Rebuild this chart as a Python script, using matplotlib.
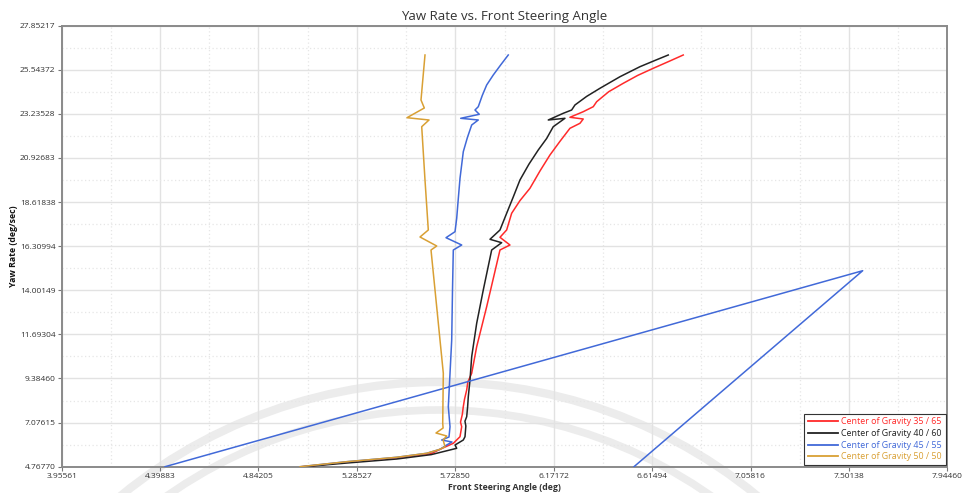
import numpy as np
import matplotlib
matplotlib.use("Agg")
import matplotlib.pyplot as plt
from matplotlib.patches import Arc
from matplotlib.lines import Line2D

plt.rcParams['font.family'] = ['Open Sans', 'DejaVu Sans']

# ---- axis ticks -------------------------------------------------------------
x_ticks = [3.95561, 4.39883, 4.84205, 5.28527, 5.72850, 6.17172,
           6.61494, 7.05816, 7.50138, 7.94460]
x_tick_labels = ["3.95561", "4.39883", "4.84205", "5.28527", "5.72850",
                 "6.17172", "6.61494", "7.05816", "7.50138", "7.94460"]
y_ticks = [4.76770, 7.07615, 9.38460, 11.69304, 14.00149, 16.30994,
           18.61838, 20.92683, 23.23528, 25.54372, 27.85217]
y_tick_labels = ["4.76770", "7.07615", "9.38460", "11.69304", "14.00149",
                 "16.30994", "18.61838", "20.92683", "23.23528", "25.54372",
                 "27.85217"]

# ---- series: front steering angle (deg) vs yaw rate (deg/sec) --------------
cg35_angle = [5.040, 5.2393, 5.4646, 5.6200, 5.6596, 5.7195, 5.7497, 5.7573,
              5.7520, 5.7600, 5.7645, 5.7700, 5.7798, 5.7850, 5.8023, 5.8248,
              5.8698, 5.9297, 5.9747, 5.9297, 5.9598, 5.9823, 6.0200, 6.0647,
              6.1100, 6.1548, 6.2000, 6.2449, 6.2900, 6.3048, 6.2449, 6.3048,
              6.3499, 6.3652, 6.4200, 6.4850, 6.5500, 6.6201, 6.6900, 6.7552]
cg35_yaw = [4.7677, 5.000, 5.230, 5.450, 5.6785, 5.9926, 6.3381, 6.8615,
            7.100, 7.500, 7.9085, 8.300, 8.7826, 9.200, 9.6568, 11.0492,
            13.1431, 16.1111, 16.3728, 16.7759, 17.1580, 18.0322, 18.700,
            19.3408, 20.250, 21.0839, 21.800, 22.4816, 22.7433, 22.9684,
            23.0574, 23.3505, 23.6123, 23.8740, 24.400, 24.8372, 25.250,
            25.6224, 25.980, 26.3186]

cg40_angle = [5.050, 5.2393, 5.4646, 5.6200, 5.7348, 5.7272, 5.7645, 5.7722,
              5.7760, 5.7720, 5.7798, 5.7840, 5.7870, 5.7947, 5.8023, 5.8248,
              5.8545, 5.8923, 5.9373, 5.8847, 5.9297, 5.9598, 5.9900, 6.0197,
              6.0600, 6.1021, 6.1400, 6.1697, 6.2224, 6.1472, 6.2147, 6.2526,
              6.2674, 6.3200, 6.3800, 6.4700, 6.5602, 6.6250, 6.6877]
cg40_yaw = [4.7677, 4.960, 5.170, 5.400, 5.7309, 5.9036, 6.1653, 6.3381,
            6.900, 7.150, 7.3850, 7.900, 8.4319, 9.3061, 10.5258, 12.2741,
            14.0172, 16.1111, 16.4932, 16.6712, 17.1580, 18.0322, 18.900,
            19.7753, 20.600, 21.3457, 21.950, 22.5653, 23.0051, 22.9161,
            23.2668, 23.4395, 23.7013, 24.150, 24.5754, 25.180, 25.7061,
            26.020, 26.3186]

cg45_angle = [4.4209, 7.5635, 6.5334, np.nan,
              5.030, 5.2393, 5.4646, 5.5997, 5.6596, 5.6898, 5.7136, 5.6672,
              5.7001, 5.7047, 5.6970, 5.7047, 5.7123, 5.7159, 5.7195, 5.7573,
              5.6866, 5.7272, 5.7348, 5.7420, 5.7497, 5.7645, 5.7830, 5.8023,
              5.8320, 5.7528, 5.8365, 5.8172, 5.8320, 5.8500, 5.8698, 5.8995,
              5.9330, 5.9670]
cg45_yaw = [4.7677, 15.0275, 4.7677, np.nan,
            4.7677, 5.0294, 5.2598, 5.4691, 5.6785, 5.9036, 6.0606, 6.1653,
            6.3224, 6.8615, 7.9085, 9.6568, 11.3999, 14.0172, 16.1111, 16.3728,
            16.7549, 17.0690, 17.7704, 18.800, 19.8643, 21.2567, 22.000,
            22.6543, 22.9161, 23.0051, 23.2144, 23.4395, 23.6123, 24.200,
            24.7482, 25.2716, 25.800, 26.3186]

cg50_angle = [5.0290, 5.2393, 5.4646, 5.5997, 5.6596, 5.6821, 5.6736, 5.6898,
              5.6416, 5.6736, 5.6718, 5.6745, 5.6461, 5.6191, 5.6448, 5.5695,
              5.6069, 5.5920, 5.5772, 5.6101, 5.5109, 5.5889, 5.5740, 5.5920]
cg50_yaw = [4.7677, 5.0294, 5.2598, 5.4691, 5.6785, 5.8146, 6.1653, 6.3747,
            6.5318, 6.7935, 7.0395, 9.6568, 12.9703, 16.1111, 16.3205, 16.7916,
            17.1580, 19.7753, 22.5653, 22.9161, 23.0365, 23.5442, 23.9630,
            26.3186]

series_labels = ["Center of Gravity 35 / 65", "Center of Gravity 40 / 60",
                 "Center of Gravity 45 / 55", "Center of Gravity 50 / 50"]
series_colors = ["#ff2a2a", "#222222", "#4169d8", "#d9a034"]

# ---- figure ----------------------------------------------------------------
W, H = 963, 493
fig = plt.figure(figsize=(W / 100, H / 100), dpi=100)
fig.patch.set_facecolor("white")

# faint background emblem rings
bg = fig.add_axes([0, 0, 1, 1], zorder=0)
bg.set_xlim(0, W)
bg.set_ylim(H, 0)
bg.axis("off")
for r, lw in [(502, 6.0), (474, 5.5)]:
    bg.add_patch(Arc((439, 884), 2 * r, 2 * r, theta1=180, theta2=360,
                     color="#ececec", lw=lw))

ax = fig.add_axes([61.7 / W, 1 - 466.7 / H, (947.3 - 61.7) / W,
                   (466.7 - 25.7) / H], zorder=1)
ax.set_facecolor("none")

data = [(cg35_angle, cg35_yaw), (cg40_angle, cg40_yaw),
        (cg45_angle, cg45_yaw), (cg50_angle, cg50_yaw)]
for (xs, ys), c, lab in zip(data, series_colors, series_labels):
    ax.plot(xs, ys, color=c, lw=1.1, label=lab, zorder=3)

ax.set_xlim(x_ticks[0], x_ticks[-1])
ax.set_ylim(y_ticks[0], y_ticks[-1])
ax.set_xticks(x_ticks)
ax.set_xticklabels(x_tick_labels)
ax.set_yticks(y_ticks)
ax.set_yticklabels(y_tick_labels)
ax.set_xticks([(a + b) / 2 for a, b in zip(x_ticks[:-1], x_ticks[1:])], minor=True)
ax.set_yticks([(a + b) / 2 for a, b in zip(y_ticks[:-1], y_ticks[1:])], minor=True)

ax.grid(which="major", color="#e2e2e2", lw=1.0, zorder=0)
ax.grid(which="minor", color="#e6e6e6", lw=0.9, ls=(0, (1, 2)), zorder=0)
ax.set_axisbelow(True)

ax.tick_params(which="major", length=3, width=0.8, color="#777777",
               labelsize=6, labelcolor="#333333", pad=1.5)
ax.tick_params(which="minor", length=0)

for s in ax.spines.values():
    s.set_color("#8a8a8a")
    s.set_linewidth(1.4)

ax.set_title("Yaw Rate vs. Front Steering Angle", fontsize=9.5, color="#333333",
             pad=4)
ax.set_xlabel("Front Steering Angle (deg)", fontsize=6.3, fontweight="bold",
              color="#333333", labelpad=2)
ax.set_ylabel("Yaw Rate (deg/sec)", fontsize=6.3, fontweight="bold",
              color="#111111", labelpad=1)

handles = [Line2D([], [], color=c, lw=1.3) for c in series_colors]
leg = ax.legend(handles, series_labels, loc="lower right", fontsize=6.4,
                handlelength=3.4, handletextpad=0.4, labelspacing=0.3,
                borderpad=0.4, borderaxespad=0.2, frameon=True, fancybox=False,
                framealpha=1, edgecolor="#333333")
leg.get_frame().set_linewidth(0.8)
for t, c in zip(leg.get_texts(), series_colors):
    t.set_color(c)

fig.savefig("out.png", dpi=100, facecolor="white")
